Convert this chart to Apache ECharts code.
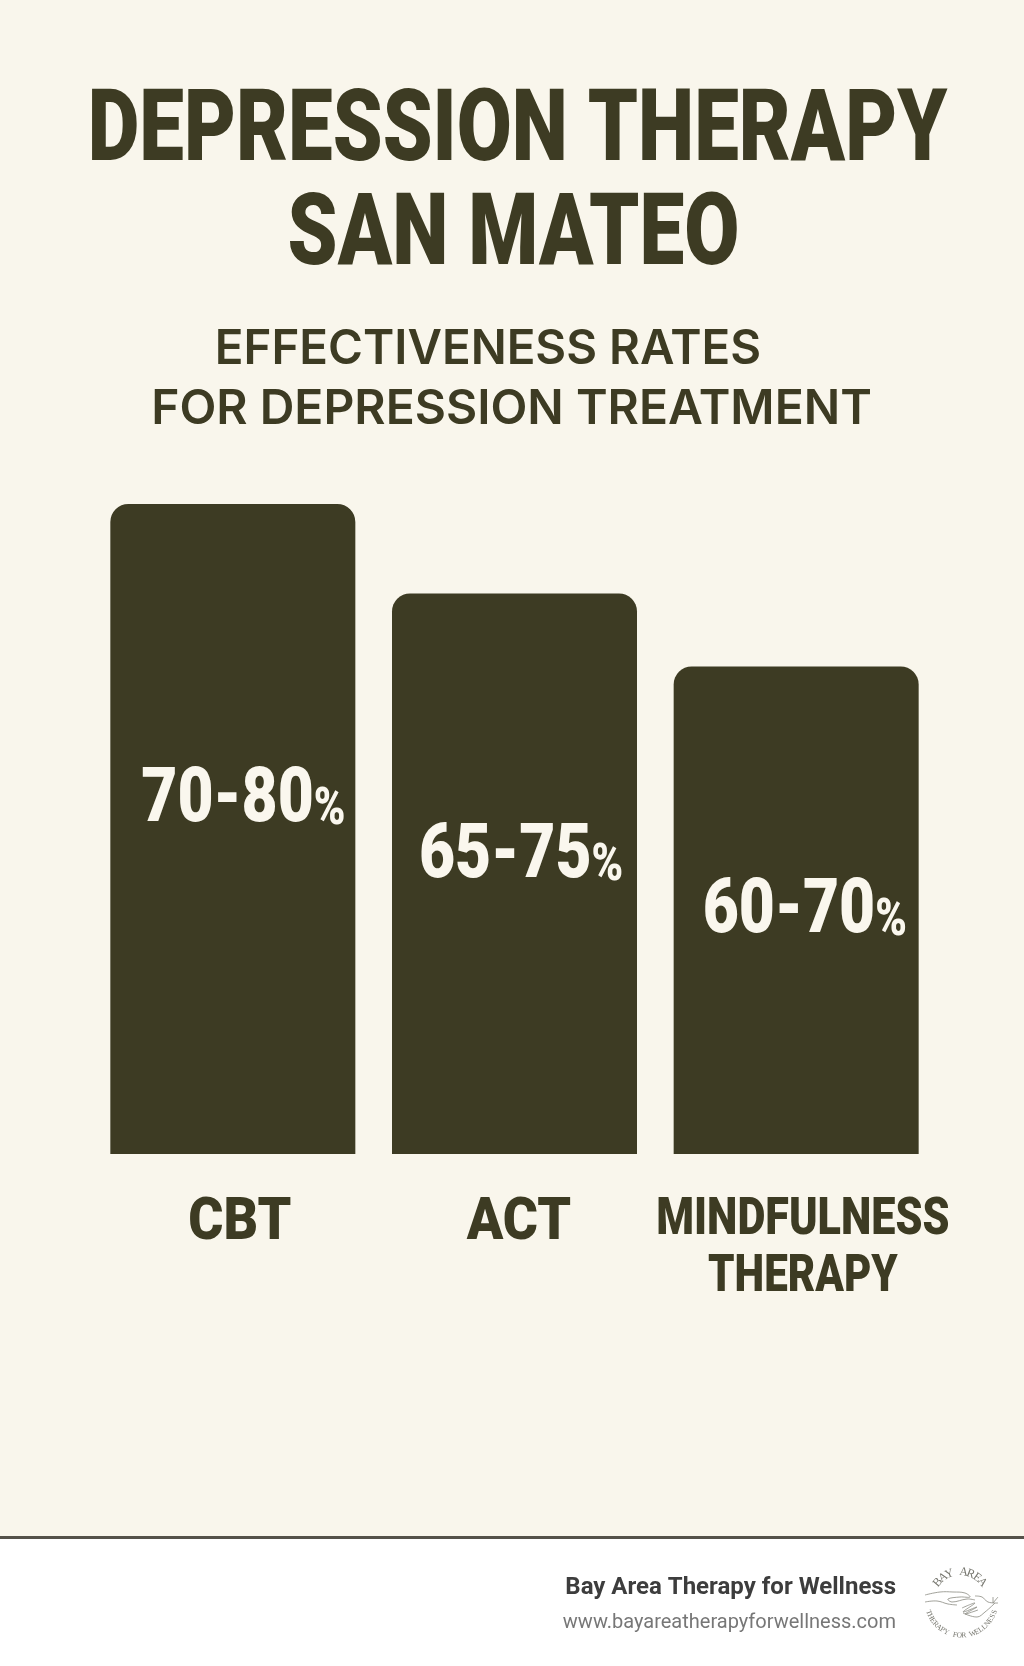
<!DOCTYPE html>
<html>
<head>
<meta charset="utf-8">
<style>
  html, body { margin: 0; padding: 0; background: #f9f6ec; }
  #chart { width: 1024px; height: 1666px; }
</style>
<script src="https://cdn.jsdelivr.net/npm/echarts@6/dist/echarts.min.js"></script>
</head>
<body>
<div id="chart"></div>
<script>
const categories = ['CBT', 'ACT', 'MINDFULNESS\nTHERAPY'];
const barValues = [80, 69, 60];
const rangeLabels = ['70-80', '65-75', '60-70'];

const DARK = '#3d3b23';
const CREAM = '#faf7ee';
const FONT = 'Roboto, sans-serif';

//where each value label sits relative to the top of its bar
const valueOffsets = [[81, 298], [77, 265], [79, 246]];
//category label nudges, size and squeeze per category
const catStyles = [
    { dx: 7, y: 70, size: 59, scale: [0.91] },
    { dx: 4.5, y: 70, size: 59, scale: [0.91] },
    { dx: 6.7, y: 67, size: 52, scale: [0.83, 0.81], lineGap: 57 }
];

const chart = echarts.init(document.getElementById('chart'), null, { renderer: 'canvas' });

//stretched headline text, scale is fitted by eye
function headline(text, x, y, size, scaleX, weight, family) {
    return {
        type: 'text',
        x: x,
        y: y,
        scaleX: scaleX,
        style: {
            text: text,
            fill: DARK,
            font: `${weight} ${size}px ${family}`,
            align: 'center',
            verticalAlign: 'middle'
        }
    };
}

function renderValueLabel(params, api) {
    const i = api.value(0);
    const pos = api.coord([i, barValues[i]]);
    const off = valueOffsets[i];
    return {
        type: 'group',
        x: pos[0] + off[0],
        y: pos[1] + off[1],
        scaleX: 0.82,
        children: [
            {
                type: 'text',
                style: { text: rangeLabels[i], fill: CREAM, font: `900 76px ${FONT}`, align: 'right', verticalAlign: 'middle' }
            },
            {
                type: 'text',
                x: 0,
                y: 9,
                style: { text: '%', fill: CREAM, font: `900 52px ${FONT}`, align: 'left', verticalAlign: 'middle' }
            }
        ]
    };
}

function renderCategoryLabel(params, api) {
    const i = api.value(0);
    const pos = api.coord([i, 0]);
    const st = catStyles[i];
    return {
        type: 'group',
        x: pos[0] + st.dx,
        y: pos[1] + st.y,
        children: categories[i].split('\n').map((line, n) => ({
            type: 'text',
            y: n * (st.lineGap || 0),
            scaleX: st.scale[n],
            style: { text: line, fill: DARK, font: `900 ${st.size}px ${FONT}`, align: 'center', verticalAlign: 'middle' }
        }))
    };
}

//letters placed one by one round the logo circle
function logoArc(text, cx, cy, radius, startDeg, stepDeg, flip) {
    return text.split('').map((ch, i) => {
        const deg = startDeg + i * stepDeg;
        const rad = deg * Math.PI / 180;
        return {
            type: 'text',
            x: cx + radius * Math.sin(rad),
            y: cy - radius * Math.cos(rad),
            rotation: flip ? -(deg - 180) * Math.PI / 180 : -rad,
            style: {
                text: ch,
                fill: '#77776f',
                font: `${flip ? 7.5 : 12}px "Liberation Serif", serif`,
                align: 'center',
                verticalAlign: 'middle'
            }
        };
    });
}

const logoStrokes = [
    [[925, 1595], [940, 1592], [953, 1592], [965, 1593], [970, 1597], [960, 1597], [948, 1599], [952, 1602], [967, 1599], [975, 1600]],
    [[925, 1602], [937, 1601], [948, 1604], [957, 1605]],
    [[962, 1608], [975, 1603], [963, 1612], [977, 1607], [965, 1614], [978, 1610]],
    [[975, 1596], [982, 1597], [988, 1602], [998, 1603]],
    [[963, 1613], [977, 1617], [985, 1612], [995, 1603]],
    [[993, 1597], [993, 1603]],
    [[993, 1603], [998, 1597]]
];

const option = {
    backgroundColor: '#f9f6ec',
    animation: false,
    grid: { left: 92, top: 504, width: 845, height: 650 },
    xAxis: {
        type: 'category',
        data: categories,
        axisLine: { show: false },
        axisTick: { show: false },
        axisLabel: { show: false }
    },
    yAxis: {
        type: 'value',
        min: 0,
        max: 80,
        show: false,
        splitLine: { show: false }
    },
    series: [
        {
            type: 'bar',
            barWidth: 245,
            itemStyle: { color: DARK, borderRadius: [18, 18, 0, 0] },
            data: barValues
        },
        {
            type: 'custom',
            renderItem: renderValueLabel,
            data: barValues.map((v, i) => [i, v]),
            z: 5,
            silent: true
        },
        {
            type: 'custom',
            renderItem: renderCategoryLabel,
            data: categories.map((c, i) => [i, 0]),
            z: 5,
            silent: true,
            clip: false
        }
    ],
    graphic: [
        { type: 'rect', z: -1, shape: { x: 0, y: 1538, width: 1024, height: 128 }, style: { fill: '#ffffff' } },
        { type: 'rect', shape: { x: 0, y: 1536, width: 1024, height: 3 }, style: { fill: '#55524a' } },
        headline('DEPRESSION THERAPY', 517.5, 135, 100, 0.798, '900', FONT),
        headline('SAN MATEO', 513.5, 238.5, 100, 0.8, '900', FONT),
        headline('EFFECTIVENESS RATES', 488, 350, 48, 0.988, '600', 'Inter, sans-serif'),
        headline('FOR DEPRESSION TREATMENT', 511.5, 410, 48, 1, '600', 'Inter, sans-serif'),
        {
            type: 'text', x: 896, y: 1588,
            style: { text: 'Bay Area Therapy for Wellness', fill: '#3d3d3d', font: `bold 24px ${FONT}`, align: 'right', verticalAlign: 'middle' }
        },
        {
            type: 'text', x: 896, y: 1623,
            style: { text: 'www.bayareatherapyforwellness.com', fill: '#777777', font: `20px ${FONT}`, align: 'right', verticalAlign: 'middle' }
        },
        ...logoStrokes.map(points => ({
            type: 'polyline',
            shape: { points: points, smooth: 0.4 },
            style: { fill: null, stroke: '#8a8a82', lineWidth: 0.8 }
        })),
        ...logoArc('BAY AREA', 960, 1601, 29, -50, 14.3, false),
        ...logoArc('THERAPY FOR WELLNESS', 961.5, 1600.5, 35, 250, -7.4, true)
    ]
};

chart.setOption(option);
</script>
</body>
</html>
